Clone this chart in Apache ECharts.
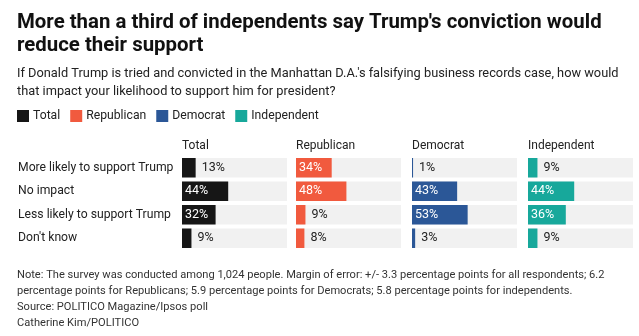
<!DOCTYPE html>
<html><head><meta charset="utf-8">
<script src="https://cdn.jsdelivr.net/npm/echarts@6/dist/echarts.min.js"></script>
<style>html,body{margin:0;padding:0;background:#fff}#c{width:639px;height:336px}</style>
</head><body><div id="c"></div>
<script>
const categories = ["More likely to support Trump", "No impact", "Less likely to support Trump", "Don't know"];
const groups = ["Total", "Republican", "Democrat", "Independent"];
const totalVals = [13, 44, 32, 9];
const republicanVals = [34, 48, 9, 8];
const democratVals = [1, 43, 53, 3];
const independentVals = [9, 44, 36, 9];
const colors = ["#161616", "#f15a3e", "#2b5797", "#17a89b"];

const FONT = "Roboto, sans-serif";
const allVals = [totalVals, republicanVals, democratVals, independentVals];
const lefts = [182, 296, 412, 528];
const W = 105;

const grids = [], xAxes = [], yAxes = [], series = [], titles = [];
titles.push({
  text: "More than a third of independents say Trump's conviction would\nreduce their support",
  left: 17, top: 11, padding: 0,
  textStyle: {fontFamily: FONT, fontSize: 20.4, fontWeight: 'bold', color: '#111', lineHeight: 23.5}
});
titles.push({
  text: "If Donald Trump is tried and convicted in the Manhattan D.A.'s falsifying business records case, how would\nthat impact your likelihood to support him for president?",
  left: 17, top: 65, padding: 0,
  textStyle: {fontFamily: FONT, fontSize: 12.8, fontWeight: 'normal', color: '#222', lineHeight: 18}
});
titles.push({
  text: "Note: The survey was conducted among 1,024 people. Margin of error: +/- 3.3 percentage points for all respondents; 6.2\npercentage points for Republicans; 5.9 percentage points for Democrats; 5.8 percentage points for independents.\nSource: POLITICO Magazine/Ipsos poll\nCatherine Kim/POLITICO",
  left: 17, top: 267, padding: 0,
  textStyle: {fontFamily: FONT, fontSize: 11.1, fontWeight: 'normal', color: '#333', lineHeight: 16}
});

groups.forEach((g, i) => {
  grids.push({left: lefts[i], top: 156, width: W, height: 94});
  xAxes.push({type: 'value', gridIndex: i, min: 0, max: 100, show: false});
  yAxes.push({
    type: 'category', gridIndex: i, data: categories, inverse: true,
    axisLine: {show: false}, axisTick: {show: false},
    axisLabel: i === 0 ? {show: true, align: 'left', margin: 164, fontFamily: FONT, fontSize: 12.2, color: '#222'} : {show: false}
  });
  titles.push({
    text: g, left: lefts[i], top: 140, padding: 0,
    textStyle: {fontFamily: FONT, fontSize: 12, fontWeight: 'normal', color: '#222'}
  });
  series.push({
    name: g, type: 'bar', xAxisIndex: i, yAxisIndex: i,
    barWidth: 19.5,
    itemStyle: {color: colors[i]},
    showBackground: true,
    backgroundStyle: {color: '#f1f1f1'},
    data: allVals[i].map(v => ({
      value: v,
      label: v >= 30
        ? {show: true, position: 'insideLeft', distance: 3, color: '#fff', formatter: '{c}%', fontFamily: FONT, fontSize: 12.5}
        : {show: true, position: 'right', distance: 6, color: '#222', formatter: '{c}%', fontFamily: FONT, fontSize: 12.5}
    }))
  });
});

const chart = echarts.init(document.getElementById('c'), null, {renderer: 'canvas'});
chart.setOption({
  animation: false,
  title: titles,
  legend: {
    data: groups, left: 17, top: 110, padding: 0, icon: 'rect', itemWidth: 12, itemHeight: 12, itemGap: 10,
    textStyle: {fontFamily: FONT, fontSize: 12.2, color: '#222', padding: [0, 0, 0, -1]}
  },
  grid: grids, xAxis: xAxes, yAxis: yAxes, series: series
});
</script></body></html>
